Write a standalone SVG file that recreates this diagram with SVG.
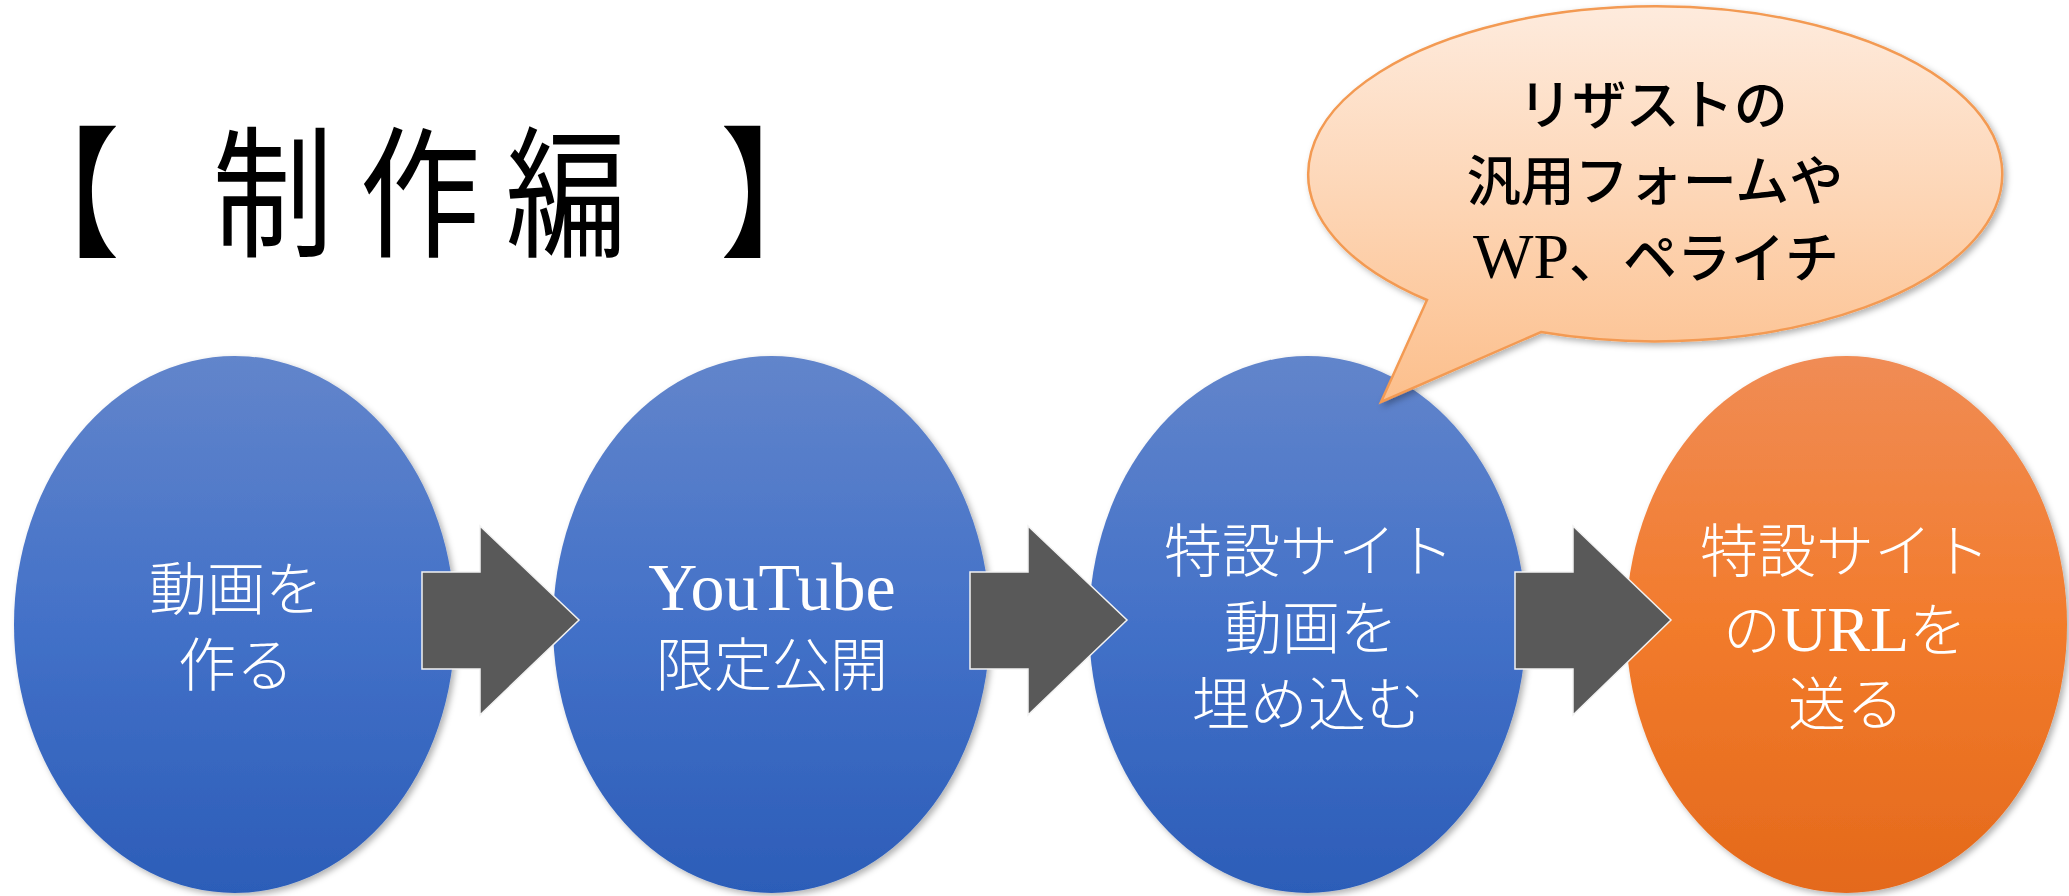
<svg xmlns="http://www.w3.org/2000/svg" width="2069" height="896" viewBox="0 0 2069 896">
  <defs>
    <linearGradient id="gBlue" x1="0" y1="0" x2="0" y2="1">
      <stop offset="0" stop-color="#6285CB"/>
      <stop offset="0.5" stop-color="#4371C8"/>
      <stop offset="1" stop-color="#2C5DB8"/>
    </linearGradient>
    <linearGradient id="gOrange" x1="0" y1="0" x2="0" y2="1">
      <stop offset="0" stop-color="#F08C55"/>
      <stop offset="0.5" stop-color="#F27B2C"/>
      <stop offset="1" stop-color="#E4691B"/>
    </linearGradient>
    <linearGradient id="gBubble" x1="0" y1="0" x2="0" y2="1">
      <stop offset="0" stop-color="#FEEBDD"/>
      <stop offset="1" stop-color="#FCBF8C"/>
    </linearGradient>
    <filter id="shadow" x="-10%" y="-10%" width="125%" height="125%">
      <feDropShadow dx="3" dy="3" stdDeviation="3" flood-color="#000" flood-opacity="0.3"/>
    </filter>
  </defs>
  <style>
    .blue { fill: url(#gBlue); filter: url(#shadow); }
    .orange { fill: url(#gOrange); filter: url(#shadow); }
    .lbl { font-family: "Liberation Serif", "Noto Sans CJK JP", serif; font-size: 58px; font-weight: 300; fill: #FFFFFF; text-anchor: middle; }
    .arrow { fill: #595959; stroke: #F2F2F2; stroke-width: 1.5; }
    .bubble { fill: url(#gBubble); stroke: #F39A52; stroke-width: 2.5; filter: url(#shadow); }
    .btxt { font-family: "Liberation Serif", "Noto Sans CJK JP", serif; font-size: 54px; font-weight: 500; fill: #000; text-anchor: middle; }
    .title { font-family: "Noto Sans CJK JP", sans-serif; font-size: 142px; font-weight: 400; fill: #000; text-anchor: middle; }
  </style>
  <rect width="2069" height="896" fill="#FFFFFF"/>

  <g id="title">
    <text class="title" transform="scale(0.85 1)" y="246">
      <tspan x="70">【</tspan><tspan x="321">制</tspan><tspan x="494">作</tspan><tspan x="666">編</tspan><tspan x="918">】</tspan>
    </text>
  </g>

  <g id="node1">
    <ellipse class="blue" cx="234.5" cy="624.5" rx="220.5" ry="268.5"/>
    <text class="lbl"><tspan x="236" y="610">動画を</tspan><tspan x="236" y="686">作る</tspan></text>
  </g>
  <g id="node2">
    <ellipse class="blue" cx="771.5" cy="624.5" rx="218.5" ry="268.5"/>
    <text class="lbl"><tspan x="772" y="610" font-size="68">YouTube</tspan><tspan x="772" y="686">限定公開</tspan></text>
  </g>
  <g id="node3">
    <ellipse class="blue" cx="1307.5" cy="624.5" rx="218.5" ry="268.5"/>
    <text class="lbl"><tspan x="1309" y="572">特設サイト</tspan><tspan x="1311" y="649">動画を</tspan><tspan x="1308" y="725">埋め込む</tspan></text>
  </g>
  <g id="node4">
    <ellipse class="orange" cx="1846.5" cy="624.5" rx="220.5" ry="268.5"/>
    <text class="lbl"><tspan x="1845" y="572">特設サイト</tspan><tspan x="1845" y="651">の<tspan font-size="64">URL</tspan>を</tspan><tspan x="1846" y="725">送る</tspan></text>
  </g>

  <g id="callout">
    <path class="bubble" d="M1427,300 A347,167.5 0 1 1 1541,332 L1381,402 Z"/>
    <text class="btxt"><tspan x="1653" y="125">リザストの</tspan><tspan x="1655" y="201">汎用フォームや</tspan><tspan x="1656" y="278"><tspan font-size="64">WP</tspan>、ペライチ</tspan></text>
  </g>

  <g id="connectors">
    <polygon class="arrow" points="422,572 480,572 480,526 579,620 480,715 480,669 422,669"/>
    <polygon class="arrow" points="970,572 1028,572 1028,526 1127,620 1028,715 1028,669 970,669"/>
    <polygon class="arrow" points="1515,572 1573,572 1573,526 1671,620 1573,715 1573,669 1515,669"/>
  </g>
</svg>
